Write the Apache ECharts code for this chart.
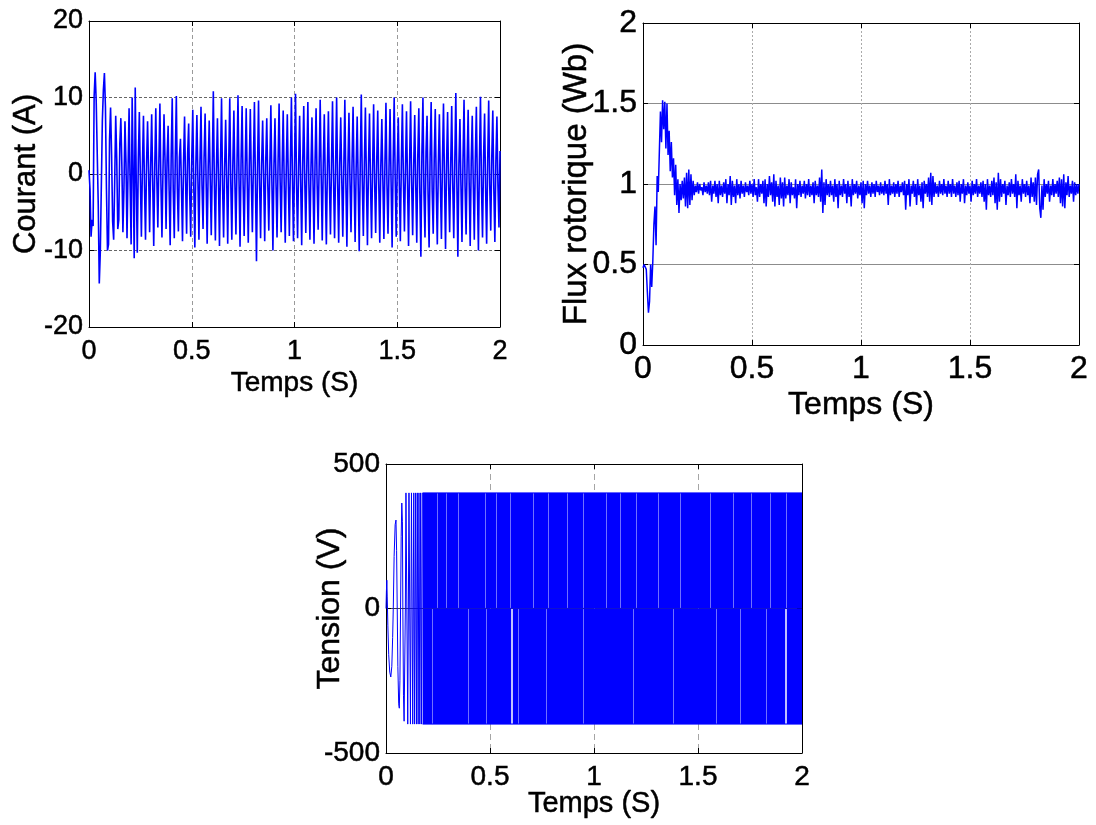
<!DOCTYPE html>
<html><head><meta charset="utf-8">
<script src="https://cdn.jsdelivr.net/npm/echarts@6/dist/echarts.min.js"></script>
<style>html,body{margin:0;padding:0;background:#fff}#c{width:1096px;height:825px}</style>
</head><body><div id="c"></div>
<script>
// sampling period of the read-off traces (s)
const DT = 0.005;

// Courant (A), one value every DT from t = 0 to 2 s
const courant = [
0.5, -2, -8.2, -6, -6.8, 10.2, 13.3, 9.6, 9.8, -4, -14.3, -10.2, -10.4, 7, 11, 13.2, 8.8, -2, -10, -9.2,
4.5, 8.7, 2.5, -6.2, -8.6, -1, 7.6, 2, -7.2, -6, 4, 7.3, 1, -7.6, -2, 6.9, 1.5, -8.4, 0.5, 8.6,
-1, -9.2, 10, 0.5, -11, 11.3, -1, -10.3, 2, 8.1, -0.5, -8.2, 1, 7.6, -1.5, -8.6, 1.2, 6.9, 0.3, -7.6,
1, 7.8, -1, -9.4, 0.8, 8.6, -0.5, -7, 1.5, 9.2, -1.2, -8.3, 0.4, 7.8, 1.8, -7.2, 2, 6.3, -2.2, -9.3,
2.5, 9.9, -2.3, -8.4, 2.4, 10.2, -2, -7.5, 2.2, 4.6, -1.8, -8.8, 1.5, 7.5, -1, -7.8, 2.6, 6.6, -2.5, -8.2,
2, 8.4, -1.8, -9.6, 1.2, 7.7, -0.8, -8.6, 1.5, 8.8, -1.6, -7.2, 2.2, 7.9, -1, -9.1, 0.9, 7, -0.7, -8,
1, 10.8, -1.2, -8.7, 0.6, 7.3, -0.9, -9.4, 1.4, 9.9, -1.5, -8.3, 0.8, 7.1, -0.6, -9.1, 1.6, 9.9, -1.1, -8.6,
1.3, 8.3, -1.2, -7.9, 1, 10.3, -0.8, -9.5, 1.8, 8.9, -1.4, -8.1, 0.7, 8.6, -1, -9, 1.2, 8.5, -0.9, -7.6,
1.5, 9.4, -1.3, -11.4, 0.8, 9.6, -1.1, -8.4, 1.2, 7, -0.5, -8.8, 1.6, 7.3, -1.3, -7.4, 0.9, 9, -1, -10,
1.1, 7.3, -1.2, -8.3, 1.4, 9.2, -0.8, -7.6, 1, 8.3, -1.4, -9, 0.8, 7.8, -1.1, -8.1, 1.3, 10, -0.7, -8.8,
1.2, 10.5, -1.5, -8.4, 0.9, 7.6, -1, -9.3, 1.4, 8.9, -0.8, -7.7, 1.1, 9.4, -1.3, -8.6, 0.6, 7.4, -0.9, -9.1,
1.5, 8.6, -1.2, -7.3, 1, 9.7, -0.6, -8.7, 1.3, 7.8, -1.4, -9.2, 0.7, 8.2, -1.1, -7.9, 1.2, 9.5, -0.9, -8.4,
1, 10, -1.3, -9, 1.4, 7.4, -0.7, -8.2, 0.9, 9.7, -1.2, -9.5, 1.1, 8, -1, -7.6, 1.5, 8.8, -0.8, -8.9,
0.8, 7.5, -1.4, -10.1, 1.2, 10.4, -1, -8.1, 1.3, 8.7, -0.9, -9.3, 1.1, 7.9, -1.2, -8.4, 0.7, 9.1, -1.1, -7.7,
1.4, 8.3, -1.3, -9, 1, 7.2, -0.8, -8.5, 1.2, 9.3, -1.4, -7.8, 0.9, 8.5, -1, -9.6, 1.3, 10, -0.6, -8.2,
1.1, 7.4, -1.2, -8.8, 1.5, 9.1, -0.9, -7.5, 0.8, 8.2, -1.3, -9.4, 1.2, 9.5, -1.1, -8, 1, 7.7, -1.5, -9,
2.4, 8.6, -2.6, -10.8, 2.8, 10, -2.5, -8.3, 2.9, 7.6, -2.7, -9.6, 2.5, 9.4, -2.3, -7.8, 2.2, 8.5, -2, -9.2,
1.3, 7.8, -1.2, -8.5, 1.6, 9.2, -1, -9.8, 1.4, 8.1, -1.3, -7.6, 1, 8.9, -1.2, -8.4, 1.5, 10.6, -1.1, -10.8,
1.2, 7.2, -1.5, -8.9, 1.8, 9.7, -1.6, -7.9, 1.4, 8.4, -1.2, -9.4, 1.7, 7.6, -1.3, -8.6, 2, 8.8, -1.8, -10,
1.9, 10.1, -1.7, -8.3, 2.1, 7.9, -1.9, -9.1, 1.6, 9.6, -1.4, -7.4, 2.2, 8.3, -2, -8.9, 1.8, 7.5, -1.5, -7,
3
];

// Flux rotorique (Wb), one value every DT from t = 0 to 2 s
const flux = [
0.48, 0.50, 0.49, 0.47, 0.33, 0.20, 0.27, 0.50, 0.36, 0.52, 0.75, 0.86, 0.62, 1.05, 0.95, 1.20, 1.45, 1.26, 1.52, 1.34,
1.51, 1.22, 1.50, 1.18, 1.33, 1.08, 1.26, 1.04, 1.16, 0.93, 1.12, 0.87, 1.03, 0.82, 1.00, 0.90, 1.02, 0.91, 1.04, 0.86,
1.07, 0.85, 1.09, 0.87, 1.06, 0.90, 1.02, 0.93, 0.99, 0.95, 1.01, 0.94, 1.00, 0.96, 0.98, 0.93, 1.01, 0.95, 0.99, 0.94,
1.01, 0.93, 1.02, 0.89, 0.99, 0.94, 1.02, 0.92, 1.00, 0.88, 1.02, 0.93, 0.99, 0.92, 1.01, 0.94, 1.03, 0.88, 1.00, 0.93,
1.05, 0.87, 1.02, 0.92, 0.99, 0.88, 1.03, 0.93, 1.00, 0.91, 1.02, 0.94, 0.99, 0.92, 1.01, 0.95, 0.99, 0.93, 1.02, 0.94,
1.00, 0.92, 1.03, 0.93, 0.98, 0.89, 1.03, 0.92, 1.00, 0.94, 1.02, 0.88, 1.03, 0.86, 1.00, 0.92, 1.05, 0.93, 1.01, 0.89,
1.06, 0.86, 1.02, 0.92, 0.99, 0.87, 1.04, 0.91, 1.01, 0.86, 1.04, 0.91, 0.99, 0.93, 1.03, 0.88, 1.01, 0.93, 0.98, 0.91,
1.03, 0.85, 1.00, 0.93, 1.02, 0.92, 0.99, 0.94, 1.02, 0.91, 1.00, 0.93, 1.03, 0.92, 0.99, 0.93, 1.01, 0.88, 1.02, 0.93,
0.99, 0.92, 1.04, 0.89, 1.09, 0.82, 1.01, 0.87, 1.03, 0.93, 1.00, 0.92, 1.02, 0.93, 0.99, 0.89, 1.03, 0.92, 1.00, 0.85,
1.02, 0.93, 0.99, 0.92, 1.03, 0.94, 1.00, 0.88, 1.02, 0.92, 0.99, 0.86, 1.03, 0.93, 1.00, 0.94, 1.02, 0.91, 0.99, 0.93,
1.01, 0.88, 1.02, 0.85, 1.00, 0.93, 1.02, 0.94, 0.99, 0.92, 1.01, 0.94, 1.00, 0.92, 1.02, 0.95, 0.99, 0.93, 1.01, 0.94,
0.99, 0.93, 1.02, 0.94, 1.00, 0.87, 1.03, 0.93, 0.99, 0.94, 1.01, 0.92, 1.00, 0.94, 1.02, 0.92, 0.99, 0.95, 1.01, 0.93,
1.02, 0.84, 1.00, 0.93, 1.03, 0.86, 0.99, 0.94, 1.02, 0.92, 1.00, 0.87, 1.03, 0.93, 0.99, 0.89, 1.01, 0.85, 1.02, 0.94,
1.00, 0.92, 1.04, 0.89, 1.07, 0.87, 1.05, 0.92, 1.01, 0.94, 0.99, 0.92, 1.02, 0.94, 1.00, 0.93, 1.03, 0.94, 0.99, 0.92,
1.02, 0.94, 1.00, 0.92, 1.03, 0.94, 0.99, 0.92, 1.01, 0.93, 1.02, 0.89, 1.00, 0.94, 1.03, 0.88, 0.99, 0.93, 1.01, 0.94,
0.99, 0.89, 1.02, 0.93, 1.00, 0.94, 1.03, 0.92, 0.99, 0.94, 1.01, 0.92, 1.02, 0.89, 1.00, 0.84, 1.03, 0.93, 0.99, 0.92,
1.02, 0.93, 1.04, 0.88, 1.01, 0.84, 1.07, 0.89, 1.03, 0.92, 1.00, 0.94, 1.02, 0.87, 0.99, 0.93, 1.01, 0.92, 1.03, 0.94,
1.00, 0.92, 1.06, 0.85, 1.02, 0.93, 0.99, 0.89, 1.03, 0.94, 1.00, 0.92, 1.02, 0.93, 0.99, 0.88, 1.04, 0.92, 1.01, 0.89,
1.04, 0.87, 1.06, 1.09, 0.85, 0.79, 0.99, 0.84, 1.03, 0.92, 1.00, 0.94, 1.02, 0.89, 0.99, 0.93, 1.03, 0.92, 1.00, 0.94,
1.02, 0.92, 1.04, 0.88, 1.03, 0.86, 1.06, 0.85, 1.01, 0.93, 1.05, 0.92, 0.99, 0.94, 1.02, 0.89, 1.01, 0.93, 1.00, 0.94,
1.00
];

// Tension (V): start-up transient (time s, value V)
const tensionDebutT = [0, 0.002, 0.004, 0.006, 0.009, 0.013, 0.018, 0.023, 0.028, 0.032, 0.035, 0.039, 0.044, 0.048, 0.051, 0.054, 0.057, 0.061, 0.064, 0.067, 0.070, 0.073, 0.076, 0.079, 0.081, 0.084, 0.087, 0.090, 0.093, 0.096, 0.104, 0.1045, 0.110, 0.1105, 0.117, 0.1175, 0.122, 0.1225, 0.128, 0.1285, 0.133, 0.1335, 0.137, 0.1375, 0.142, 0.1425, 0.146, 0.1465, 0.150, 0.1505, 0.154, 0.1545, 0.158, 0.1585, 0.162, 0.1625, 0.166, 0.1665, 0.170, 0.1705, 0.174, 0.1745, 0.177];
const tensionDebutV = [0, 60, 98, 40, -60, -160, -220, -237, -200, -100, 0, 180, 290, 306, 200, 0, -200, -330, -345, -250, 0, 250, 365, 300, 0, -300, -390, -385, 0, 400, 400, -400, -400, 400, 400, -400, -400, 400, 400, -400, -400, 400, 400, -400, -400, 400, 400, -400, -400, 400, 400, -400, -400, 400, 400, -400, -400, 400, 400, -400, -400, 400, 400];
// Tension (V): dense PWM switching band between +400 and -400 V
const tensionBlocT = [0.176, 2];
const tensionHaut = [400, 400];
const tensionBas = [-400, -400];
// lighter switching stripes (s) in the upper / lower half, and white gaps in the lower half
const rayuresHautT = [0.244, 0.292, 0.348, 0.476, 0.532, 0.596, 0.708, 0.780, 0.869, 0.949, 1.061, 1.125, 1.205, 1.309, 1.413, 1.558, 1.670, 1.758, 1.846, 1.926];
const rayuresBasT = [0.220, 0.396, 0.484, 0.636, 0.772, 0.949, 1.189, 1.381, 1.590, 1.702, 1.830];
const trousBasT = [0.605, 1.923];

const xTicks = [0, 0.5, 1, 1.5, 2];

const FONT = '"Liberation Sans", Arial, sans-serif';
const BLUE = '#0000ff';
const TXT = { fontFamily: FONT, color: '#000', textBorderColor: '#000', textBorderWidth: 0.5 };

function xAxes(gi, fs, nfs, margin, gap, split) {
  return [{
    type: 'value', gridIndex: gi, position: 'bottom', min: xTicks[0], max: xTicks[xTicks.length - 1], interval: xTicks[1] - xTicks[0],
    axisLine: { show: true, onZero: false, lineStyle: { color: '#000', width: 1 } },
    axisTick: { show: true, inside: true, length: 5, lineStyle: { color: '#000' } },
    axisLabel: Object.assign({ fontSize: fs, margin: margin }, TXT),
    splitLine: { show: true, lineStyle: split },
    name: 'Temps (S)', nameLocation: 'middle', nameGap: gap, nameMoveOverlap: false,
    nameTextStyle: Object.assign({ fontSize: nfs }, TXT)
  }, {
    type: 'value', gridIndex: gi, position: 'top', min: xTicks[0], max: xTicks[xTicks.length - 1], interval: xTicks[1] - xTicks[0],
    axisLine: { show: true, onZero: false, lineStyle: { color: '#000', width: 1 } },
    axisTick: { show: true, inside: true, length: 5, lineStyle: { color: '#000' } },
    axisLabel: { show: false }, splitLine: { show: false }
  }];
}
function yAxes(gi, min, max, interval, fs, margin, name, nfs, gap, split) {
  return [{
    type: 'value', gridIndex: gi, position: 'left', min: min, max: max, interval: interval,
    axisLine: { show: true, onZero: false, lineStyle: { color: '#000', width: 1 } },
    axisTick: { show: true, inside: true, length: 5, lineStyle: { color: '#000' } },
    axisLabel: Object.assign({ fontSize: fs, margin: margin }, TXT),
    splitLine: { show: true, lineStyle: split },
    name: name, nameLocation: 'middle', nameGap: gap, nameMoveOverlap: false,
    nameTextStyle: Object.assign({ fontSize: nfs }, TXT)
  }, {
    type: 'value', gridIndex: gi, position: 'right', min: min, max: max, interval: interval,
    axisLine: { show: true, onZero: false, lineStyle: { color: '#000', width: 1 } },
    axisTick: { show: true, inside: true, length: 5, lineStyle: { color: '#000' } },
    axisLabel: { show: false }, splitLine: { show: false }
  }];
}

const courantData = courant.map((v, i) => [i * DT, v]);
const fluxData = flux.map((v, i) => [i * DT, v]);
const tensionDebut = tensionDebutT.map((t, i) => [t, tensionDebutV[i]]);
const tensionH = tensionBlocT.map((t, i) => [t, tensionHaut[i]]);
const tensionB = tensionBlocT.map((t, i) => [t, tensionBas[i]]);

function segs(times, v0, v1) {
  return times.map(t => [{ coord: [t, v0] }, { coord: [t, v1] }]);
}

const chart = echarts.init(document.getElementById('c'), null, { renderer: 'canvas' });
chart.setOption({
  animation: false,
  backgroundColor: '#fff',
  grid: [
    { left: 89, top: 21, width: 411, height: 306 },
    { left: 643, top: 23, width: 436, height: 322 },
    { left: 386, top: 464, width: 416, height: 289 }
  ],
  xAxis: [].concat(
    xAxes(0, 27, 28, 11, 42, { color: '#9a9a9a', type: [4, 3], width: 1 }),
    xAxes(1, 32, 32, 8, 44, { color: '#aaaaaa', type: [2, 2], width: 1 }),
    xAxes(2, 28, 29, 10, 36, { color: '#a5a5a5', type: [6, 4], width: 1 })
  ),
  yAxis: [].concat(
    yAxes(0, -20, 20, 10, 27, 6, 'Courant (A)', 31, 47, { color: '#666', type: [3, 2], width: 1 }),
    yAxes(1, 0, 2, 0.5, 32, 6, 'Flux rotorique (Wb)', 33, 50, { color: '#8c8c8c', type: 'solid', width: 1 }),
    yAxes(2, -500, 500, 500, 28, 6, 'Tension (V)', 32, 40, { color: '#444', type: 'solid', width: 1 })
  ),
  series: [
    { name: 'Courant', type: 'line', xAxisIndex: 0, yAxisIndex: 0, data: courantData, showSymbol: false, symbol: 'none',
      lineStyle: { color: BLUE, width: 1.6 }, itemStyle: { color: BLUE } },
    { name: 'Flux', type: 'line', xAxisIndex: 2, yAxisIndex: 2, data: fluxData, showSymbol: false, symbol: 'none',
      lineStyle: { color: BLUE, width: 1.5 }, itemStyle: { color: BLUE } },
    { name: 'Tension', type: 'line', xAxisIndex: 4, yAxisIndex: 4, data: tensionDebut, showSymbol: false, symbol: 'none',
      lineStyle: { color: BLUE, width: 1 }, itemStyle: { color: BLUE } },
    { name: 'Tension haut', type: 'line', xAxisIndex: 4, yAxisIndex: 4, data: tensionH, showSymbol: false, symbol: 'none',
      lineStyle: { color: BLUE, width: 1 }, itemStyle: { color: BLUE }, areaStyle: { color: BLUE, opacity: 1, origin: 'auto' },
      markLine: { silent: true, symbol: 'none', label: { show: false }, lineStyle: { color: '#7070ff', width: 1, type: 'solid' }, data: segs(rayuresHautT, 2, 398) } },
    { name: 'Tension bas', type: 'line', xAxisIndex: 4, yAxisIndex: 4, data: tensionB, showSymbol: false, symbol: 'none',
      lineStyle: { color: BLUE, width: 1 }, itemStyle: { color: BLUE }, areaStyle: { color: BLUE, opacity: 1, origin: 'auto' },
      markLine: { silent: true, symbol: 'none', label: { show: false }, lineStyle: { color: '#7070ff', width: 1, type: 'solid' },
        data: segs(rayuresBasT, -2, -398).concat(trousBasT.map(t => [{ coord: [t, -2], lineStyle: { color: '#ffffff', width: 1.5 } }, { coord: [t, -398] }])) } }
  ]
});
</script>
</body></html>
